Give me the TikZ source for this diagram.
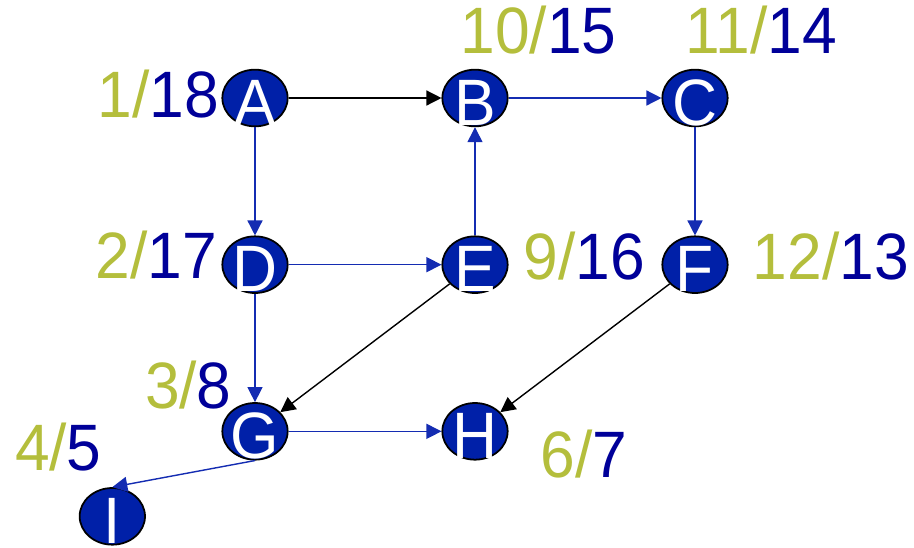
\documentclass[tikz,border=0pt]{standalone}
\usepackage{fontspec}
\setmainfont{Liberation Sans}[FakeStretch=0.95]
\usetikzlibrary{shapes.geometric, arrows.meta, positioning}
\definecolor{vertexblue}{RGB}{0, 32, 168}
\definecolor{edgeblue}{RGB}{20, 44, 178}
\definecolor{discolor}{RGB}{180, 190, 60}
\definecolor{fincolor}{RGB}{0, 0, 153}
\newcommand{\vtx}[1]{\makebox[0pt]{\raisebox{-0.81cm}[0pt][0pt]{#1}}}
\newcommand{\stamp}[2]{\textcolor{discolor}{#1/}\textcolor{fincolor}{#2}}

\begin{document}
\begin{tikzpicture}[
                node distance=5cm and 6.6cm,
                vertex/.style={ellipse, on grid, draw=black, line width=1.5pt, fill=vertexblue, minimum width=1.96cm, minimum height=1.7cm, inner sep=0pt, text=white, font=\fontsize{56}{56}\selectfont},
                time/.style={inner sep=0pt, font=\fontsize{56}{56}\selectfont},
                tree/.style={line width=1.2pt, edgeblue, -{Triangle[length=0.45cm, width=0.45cm]}},
                other/.style={line width=1.2pt, black, -{Triangle[length=0.45cm, width=0.45cm]}}
            ]%
            \useasboundingbox (-7.65,2.94) rectangle (19.77,-13.47);
            %
            % Vertices
            \node[vertex] (A) {\vtx{A}};
            \node[vertex, right=of A] (B) {\vtx{B}};
            \node[vertex, right=of B] (C) {\vtx{C}};
            \node[vertex, below=of A] (D) {\vtx{D}};
            \node[vertex, below=of B] (E) {\vtx{E}};
            \node[vertex, below=of C] (F) {\vtx{F}};
            \node[vertex, below=of D] (G) {\vtx{G}};
            \node[vertex, below=of E] (H) {\vtx{H}};
            \node[vertex, below left=2.55cm and 4.28cm of G] (I) {\vtx{I}};
            %
            % Discovery / finish times
            \node[time, left=0.06cm of A, yshift=0.12cm] (tA) {\stamp{1}{18}};
            \node[time, above=0.42cm of B, xshift=1.91cm] (tB) {\stamp{10}{15}};
            \node[time, above=0.42cm of C, xshift=1.99cm] (tC) {\stamp{11}{14}};
            \node[time, left=0.12cm of D, yshift=0.3cm] (tD) {\stamp{2}{17}};
            \node[time, right=0.45cm of E, yshift=0.26cm] (tE) {\stamp{9}{16}};
            \node[time, right=0.72cm of F, yshift=0.26cm] (tF) {\stamp{12}{13}};
            \node[time, above=-0.21cm of G, xshift=-2.0cm] (tG) {\stamp{3}{8}};
            \node[time, right=0.96cm of H, yshift=-0.69cm] (tH) {\stamp{6}{7}};
            \node[time, above=0.48cm of I, xshift=-1.62cm] (tI) {\stamp{4}{5}};
            %
            % Tree edges
            \draw[tree] (A) -- (D);
            \draw[tree] (B) -- (C);
            \draw[tree] (C) -- (F);
            \draw[tree] (D) -- (E);
            \draw[tree] (E) -- (B);
            \draw[tree] (D) -- (G);
            \draw[tree] (G) -- (H);
            \draw[tree] (G.south) -- (I.north);
            %
            % Other edges
            \draw[other] (A) -- (B);
            \draw[other] (E) -- (G);
            \draw[other] (F) -- (H);
        \end{tikzpicture}
\end{document}
